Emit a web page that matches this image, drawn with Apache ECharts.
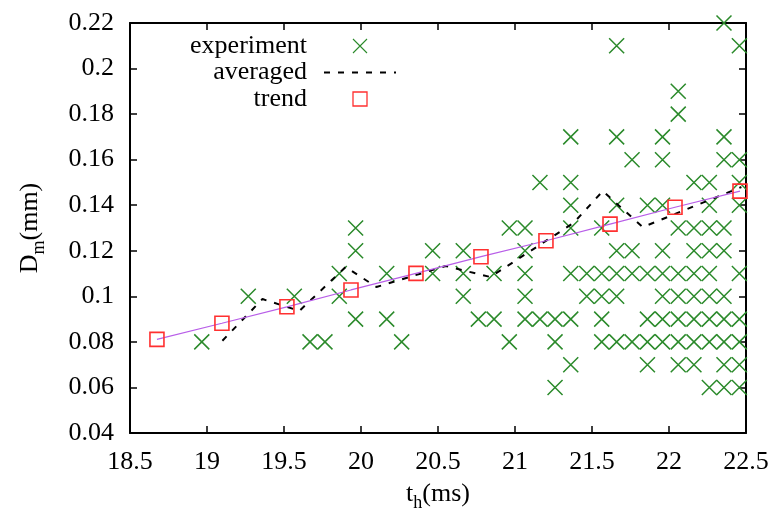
<!DOCTYPE html>
<html>
<head>
<meta charset="utf-8">
<script src="https://cdn.jsdelivr.net/npm/echarts@6/dist/echarts.min.js"></script>
<style>html,body{margin:0;padding:0;background:#fff}#c{width:776px;height:511px}</style>
</head>
<body>
<div id="c"></div>
<script>
// experiment: columns of t_h (ms) with the D_m (mm) values measured at each
const expT = [18.966, 19.268, 19.567, 19.669, 19.766, 19.859, 19.965, 20.167, 20.264, 20.465,
  20.664, 20.762, 20.864, 20.963, 21.065, 21.162, 21.26, 21.362, 21.466, 21.563,
  21.66, 21.76, 21.86, 21.958, 22.06, 22.162, 22.262, 22.357, 22.457];
const expD = [
  [0.08], [0.10], [0.10], [0.08], [0.08], [0.11, 0.10], [0.13, 0.12, 0.09], [0.11, 0.09], [0.08], [0.12, 0.11],
  [0.12, 0.11, 0.10], [0.09], [0.11, 0.09], [0.13, 0.08], [0.13, 0.12, 0.11, 0.10, 0.09], [0.15, 0.09], [0.09, 0.08, 0.06],
  [0.17, 0.15, 0.14, 0.13, 0.11, 0.09, 0.07], [0.11, 0.10], [0.13, 0.11, 0.10, 0.09, 0.08],
  [0.21, 0.17, 0.14, 0.12, 0.11, 0.10, 0.08], [0.16, 0.12, 0.11, 0.08], [0.14, 0.11, 0.09, 0.08, 0.07],
  [0.17, 0.16, 0.14, 0.12, 0.11, 0.10, 0.09, 0.08], [0.19, 0.18, 0.13, 0.11, 0.10, 0.09, 0.08, 0.07],
  [0.15, 0.13, 0.12, 0.11, 0.10, 0.09, 0.08, 0.07], [0.15, 0.14, 0.13, 0.12, 0.11, 0.10, 0.09, 0.08, 0.06],
  [0.22, 0.17, 0.16, 0.13, 0.12, 0.10, 0.09, 0.08, 0.07, 0.06], [0.21, 0.16, 0.15, 0.14, 0.11, 0.09, 0.08, 0.07, 0.06]
];
// averaged
const avgT = [19.10, 19.36, 19.60, 19.90, 20.10, 20.55, 20.84, 21.38, 21.57, 21.83, 22.47];
const avgD = [0.0805, 0.0988, 0.0936, 0.1129, 0.1041, 0.1133, 0.1085, 0.1322, 0.1462, 0.1304, 0.148];
// trend
const trendT = [18.675, 19.097, 19.519, 19.935, 20.357, 20.779, 21.201, 21.617, 22.039, 22.461];
const trendD = [0.0811, 0.0882, 0.0954, 0.1028, 0.1101, 0.1174, 0.1244, 0.1317, 0.1391, 0.1462];
// axis ticks
const xTicks = ['18.5', '19', '19.5', '20', '20.5', '21', '21.5', '22', '22.5'];
const yTicks = ['0.04', '0.06', '0.08', '0.1', '0.12', '0.14', '0.16', '0.18', '0.2', '0.22'];

const expData = [];
expT.forEach((t, i) => expD[i].forEach(d => expData.push([t, d])));
const avgData = avgT.map((t, i) => [t, avgD[i]]);
const trendData = trendT.map((t, i) => [t, trendD[i]]);

const FONT = '"Liberation Serif", "Times New Roman", serif';
const FS = 26;
const GREEN = '#2b8a2b', RED = '#ff3030';
const xMin = +xTicks[0], xMax = +xTicks[xTicks.length - 1];
const yMin = +yTicks[0], yMax = +yTicks[yTicks.length - 1];

const baseAxis = {
  axisLine: { show: true, onZero: false, lineStyle: { color: '#000', width: 2 } },
  axisTick: { show: true, inside: true, length: 7, lineStyle: { color: '#000', width: 1.5 } },
  splitLine: { show: false }
};

const chart = echarts.init(document.getElementById('c'), null, { renderer: 'canvas' });
chart.setOption({
  animation: false,
  backgroundColor: '#fff',
  textStyle: { fontFamily: FONT },
  grid: { left: 130, right: 30, top: 23, bottom: 78, containLabel: false, outerBoundsMode: 'none' },
  legend: {
    data: [
      { name: 'experiment', itemStyle: { color: 'rgba(0,0,0,0)', borderColor: GREEN, borderWidth: 1.1 } },
      { name: 'averaged', itemStyle: { color: 'rgba(0,0,0,0)', opacity: 0 } },
      { name: 'trend', itemStyle: { color: 'rgba(0,0,0,0)', borderColor: RED, borderWidth: 1.3 } }
    ],
    orient: 'vertical',
    align: 'right',
    right: 379,
    top: 33,
    itemWidth: 72,
    itemHeight: 14,
    itemGap: 0.5,
    padding: 0,
    selectedMode: false,
    textStyle: { fontFamily: FONT, fontSize: FS, color: '#000', lineHeight: 23, padding: [0, 12, 0, 0] }
  },
  xAxis: [
    Object.assign({}, baseAxis, {
      type: 'value', min: xMin, max: xMax, interval: 0.5, position: 'bottom',
      axisLabel: { fontFamily: FONT, fontSize: FS, color: '#000', margin: 16,
        formatter: v => xTicks[Math.round((v - xMin) / 0.5)] },
      name: '{n|t}{s|h}{n|(ms)}', nameLocation: 'middle', nameGap: 43,
      nameTextStyle: { rich: {
        n: { fontFamily: FONT, fontSize: FS, color: '#000', lineHeight: 36, verticalAlign: 'middle' },
        s: { fontFamily: FONT, fontSize: 18, color: '#000', lineHeight: 18, verticalAlign: 'bottom' } } }
    }),
    Object.assign({}, baseAxis, {
      type: 'value', min: xMin, max: xMax, interval: 0.5, position: 'top', axisLabel: { show: false }
    })
  ],
  yAxis: [
    Object.assign({}, baseAxis, {
      type: 'value', min: yMin, max: yMax, interval: 0.02, position: 'left',
      axisLabel: { fontFamily: FONT, fontSize: FS, color: '#000', margin: 16,
        formatter: v => yTicks[Math.round((v - yMin) / 0.02)] },
      name: '{n|D}{s|m}{n|(mm)}', nameLocation: 'middle', nameGap: 82, nameRotate: 90,
      nameTextStyle: { rich: {
        n: { fontFamily: FONT, fontSize: FS, color: '#000', lineHeight: 36, verticalAlign: 'middle' },
        s: { fontFamily: FONT, fontSize: 18, color: '#000', lineHeight: 18, verticalAlign: 'bottom' } } }
    }),
    Object.assign({}, baseAxis, {
      type: 'value', min: yMin, max: yMax, interval: 0.02, position: 'right', axisLabel: { show: false }
    })
  ],
  series: [
    {
      name: 'experiment', type: 'scatter', data: expData,
      symbol: 'path://M0,0L10,10M10,0L0,10', symbolSize: 15, symbolKeepAspect: true,
      itemStyle: { color: 'rgba(0,0,0,0)', borderColor: GREEN, borderWidth: 1.5, opacity: 1 },
      z: 3
    },
    {
      name: 'averaged', type: 'line', data: avgData, symbol: 'none', showSymbol: false,
      lineStyle: { color: '#000', width: 2, type: [6, 8] },
      itemStyle: { color: 'rgba(0,0,0,0)' },
      z: 4
    },
    {
      name: 'fit', type: 'line', data: trendData, symbol: 'none', showSymbol: false,
      lineStyle: { color: '#b85ee8', width: 1.2 },
      itemStyle: { color: '#b85ee8' },
      z: 5
    },
    {
      name: 'trend', type: 'scatter', data: trendData,
      symbol: 'path://M0,0L10,0L10,10L0,10Z', symbolSize: 14, symbolKeepAspect: true,
      itemStyle: { color: 'rgba(0,0,0,0)', borderColor: RED, borderWidth: 1.6, opacity: 1 },
      z: 6
    }
  ]
});
</script>
</body>
</html>
